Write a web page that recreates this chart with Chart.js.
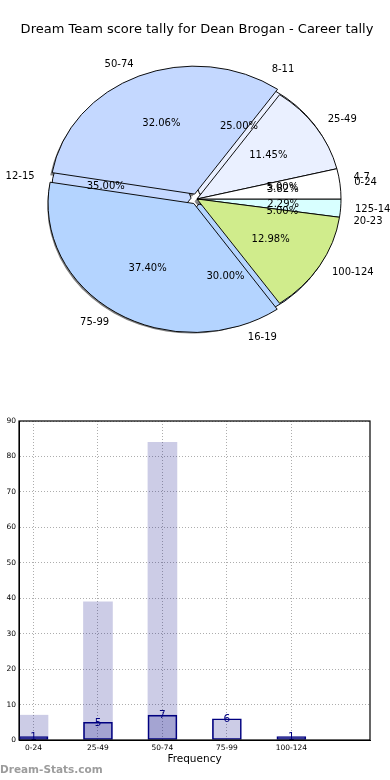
<!DOCTYPE html>
<html><head><meta charset="utf-8">
<script src="https://cdn.jsdelivr.net/npm/chart.js@4/dist/chart.umd.min.js"></script>
<style>
html,body{margin:0;padding:0;background:#fff;width:390px;height:780px;overflow:hidden}
#wrap{position:relative;width:390px;height:780px}
canvas{position:absolute;left:0}
#tally,#score{top:0}
#bars{top:400px}
#wm{position:absolute;left:0;top:763px;font:bold 10.5px "DejaVu Sans",sans-serif;color:#9c9c9c;white-space:nowrap}
</style></head><body>
<div id="wrap">
<canvas id="tally" width="390" height="400"></canvas>
<canvas id="score" width="390" height="400"></canvas>
<canvas id="bars" width="390" height="380"></canvas>
<div id="wm">Dream-Stats.com</div>
</div>
<script>
// ---------------- data ----------------
const chartTitle = 'Dream Team score tally for Dean Brogan - Career tally';
const scoreCategories = ['0-24', '25-49', '50-74', '75-99', '100-124', '125-149'];
const scorePercent = [3.82, 11.45, 32.06, 37.40, 12.98, 2.29];
const tallyCategories = ['4-7', '8-11', '12-15', '16-19', '20-23'];
const tallyPercent = [5.00, 25.00, 35.00, 30.00, 5.00];
const barCategories = ['0-24', '25-49', '50-74', '75-99', '100-124'];
const barBackValues = [7, 39, 84, 0, 0];
const barFrequency = [1, 5, 7, 6, 1];
const xAxisTitle = 'Frequency';

// ---------------- styles / geometry ----------------
Chart.defaults.font.family = '"DejaVu Sans", sans-serif';
const PIE_R = 144, TALLY_R = 139, K = 0.885, EXPLODE = 24;
const scoreColors = ['#ffffff', '#eaf0ff', '#c4d8ff', '#b4d4ff', '#d0ec8c', '#d8ffff'];
const scoreExplode = [0, 0, 1, 1, 0, 0];
const tallyColors = ['#ffffff', '#eaf0ff', '#c4d8ff', '#b4d4ff', '#d0ec8c'];
const tallyExplode = [0, 1, 1, 1, 0];
const rev = a => a.slice().reverse();

const squash = {
  id: 'squash',
  beforeDatasetsDraw(chart) {
    const a = chart.getDatasetMeta(0).data[0];
    const ctx = chart.ctx;
    ctx.save();
    ctx.translate(0, a.y); ctx.scale(1, K); ctx.translate(0, -a.y);
  },
  afterDatasetsDraw(chart) { chart.ctx.restore(); }
};

const pieShadow = {
  id: 'pieShadow',
  beforeDatasetsDraw(chart) {
    if (!window.scoreChart) return;
    const ctx = chart.ctx;
    ctx.save();
    ctx.translate(-2.5, 2.5 / K);
    ctx.fillStyle = 'rgba(0,0,0,0.5)';
    window.scoreChart.getDatasetMeta(0).data.forEach(a => {
      const mid = (a.startAngle + a.endAngle) / 2;
      const off = (a.options.offset || 0) / 4;
      const x = a.x + Math.cos(mid) * off, y = a.y + Math.sin(mid) * off;
      ctx.beginPath(); ctx.moveTo(x, y);
      ctx.arc(x, y, a.outerRadius, a.startAngle, a.endAngle);
      ctx.closePath(); ctx.fill();
    });
    ctx.restore();
  }
};

const pieLabels = {
  id: 'pieLabels',
  afterDraw(chart) {
    const ctx = chart.ctx;
    const charts = [window.tallyChart, chart].filter(Boolean);
    ctx.save();
    ctx.font = '10px "DejaVu Sans"';
    ctx.fillStyle = '#000';
    ctx.textBaseline = 'middle';
    charts.forEach(c => {
      const ds = c.data.datasets[0];
      c.getDatasetMeta(0).data.forEach((a, i) => {
        const mid = (a.startAngle + a.endAngle) / 2;
        const off = (a.options.offset || 0) / 4;
        const ox = a.x + Math.cos(mid) * off, oy = a.y + Math.sin(mid) * off;
        const sy = y => a.y + (y - a.y) * K;
        const lx = ox + 1.1 * PIE_R * Math.cos(mid), ly = oy + 1.1 * PIE_R * Math.sin(mid);
        ctx.textAlign = lx > a.x ? 'left' : 'right';
        ctx.fillText(c.data.labels[i], lx, sy(ly));
        const px = ox + 0.6 * PIE_R * Math.cos(mid), py = oy + 0.6 * PIE_R * Math.sin(mid);
        ctx.textAlign = 'center';
        ctx.fillText(ds.data[i].toFixed(2) + '%', px, sy(py));
      });
    });
    ctx.restore();
  }
};

const pieBase = {
  responsive: false, animation: false, rotation: 90,
  plugins: { legend: { display: false }, tooltip: { enabled: false } }
};

window.scoreChart = new Chart(document.getElementById('score'), {
  type: 'pie',
  data: {
    labels: rev(scoreCategories),
    datasets: [{
      data: rev(scorePercent),
      backgroundColor: rev(scoreColors),
      borderColor: '#000', borderWidth: 1,
      offset: rev(scoreExplode).map(e => e * EXPLODE)
    }]
  },
  options: Object.assign({}, pieBase, {
    radius: PIE_R,
    layout: { padding: { left: 4, right: 0, top: 0, bottom: 39.6 } },
    plugins: {
      legend: { display: false }, tooltip: { enabled: false },
      title: { display: true, text: chartTitle, color: '#000',
        font: { size: 13, weight: 'normal' }, padding: { top: 22, bottom: 0 } }
    }
  }),
  plugins: [squash, pieLabels]
});

window.tallyChart = new Chart(document.getElementById('tally'), {
  type: 'pie',
  data: {
    labels: rev(tallyCategories),
    datasets: [{
      data: rev(tallyPercent),
      backgroundColor: rev(tallyColors),
      borderColor: '#000', borderWidth: 1,
      offset: rev(tallyExplode).map(e => e * EXPLODE)
    }]
  },
  options: Object.assign({}, pieBase, {
    radius: TALLY_R,
    layout: { padding: { left: 4, right: 0, top: 37.6, bottom: 39.6 } }
  }),
  plugins: [squash, pieShadow]
});
window.scoreChart.draw();

// ---------------- bar chart ----------------
const frame = {
  id: 'frame',
  afterDraw(chart) {
    const { ctx, chartArea: a } = chart;
    ctx.save(); ctx.strokeStyle = '#000'; ctx.lineWidth = 1.2;
    ctx.strokeRect(a.left, a.top, a.right - a.left, a.bottom - a.top);
    ctx.restore();
  }
};
const valueLabels = {
  id: 'valueLabels',
  afterDatasetsDraw(chart) {
    const ctx = chart.ctx;
    ctx.save();
    ctx.font = '10.5px "DejaVu Sans"'; ctx.fillStyle = '#000080';
    ctx.textAlign = 'center'; ctx.textBaseline = 'middle';
    chart.getDatasetMeta(1).data.forEach((el, i) => {
      ctx.fillText(String(barFrequency[i]), el.x, el.y + 0.5);
    });
    ctx.restore();
  }
};
const tickFont = { size: 7.5 };
const gridStyle = { color: 'rgba(0,0,0,0.32)', lineWidth: 1, drawTicks: false, offset: false };
new Chart(document.getElementById('bars'), {
  type: 'bar',
  data: {
    datasets: [
      { data: barBackValues.map((v, i) => ({ x: i, y: v })), backgroundColor: 'rgba(0,0,128,0.2)',
        borderWidth: 0, barThickness: 29, grouped: false },
      { data: barFrequency.map((v, i) => ({ x: i, y: v })), backgroundColor: 'rgba(0,0,128,0.2)',
        borderColor: '#000080', borderWidth: 1, borderSkipped: false, barThickness: 29, grouped: false }
    ]
  },
  options: {
    responsive: false, animation: false,
    layout: { padding: { left: 0, right: 20, top: 21, bottom: 0 } },
    plugins: { legend: { display: false }, tooltip: { enabled: false } },
    scales: {
      x: {
        type: 'linear', min: -0.225, max: 5.22, offset: false,
        afterBuildTicks: s => { s.ticks = barCategories.map((c, i) => ({ value: i })); },
        ticks: { callback: v => barCategories[v], font: tickFont, color: '#000', padding: 3.5,
          maxRotation: 0, autoSkip: false },
        grid: gridStyle,
        border: { display: true, color: '#000', width: 1, dash: [1, 2] },
        title: { display: true, text: xAxisTitle, color: '#000', font: { size: 10.5 },
          padding: { top: 0, bottom: 14 } },
        afterFit: s => { s.height = 40; }
      },
      y: {
        min: 0, max: 90,
        ticks: { stepSize: 10, font: tickFont, color: '#000', padding: 3 },
        grid: gridStyle,
        border: { display: true, color: '#000', width: 1, dash: [1, 2] },
        afterFit: s => { s.width = 19; }
      }
    }
  },
  plugins: [frame, valueLabels]
});
</script>
</body></html>
